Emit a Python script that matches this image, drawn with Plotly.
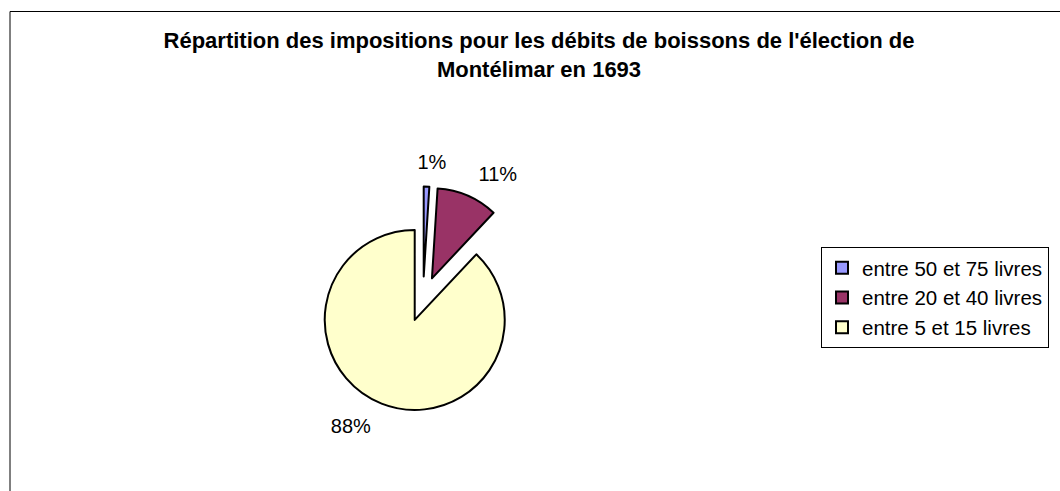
import plotly.graph_objects as go

labels = ["entre 50 et 75 livres", "entre 20 et 40 livres", "entre 5 et 15 livres"]
values = [1, 11, 88]
colors = ["#9999FF", "#993366", "#FFFFCC"]
title_text = "Répartition des impositions pour les débits de boissons de l'élection de<br>Montélimar en 1693"

W, H = 1060, 491
FONT = "Arial, Liberation Sans, sans-serif"

# pie geometry (pixels)
cx, cy = 423, 299
r_pie, pull = 90, 0.25
r_lab = 126

def dom(c, half, total, flip=False):
    a, b = (c - half) / total, (c + half) / total
    if flip:
        a, b = 1 - b, 1 - a
    return [a, b]

half_pie = r_pie * (1 + pull)

fig = go.Figure()
fig.add_trace(go.Pie(
    labels=labels, values=values, sort=False, direction="clockwise", rotation=0,
    pull=[pull] * len(values),
    marker=dict(colors=colors, line=dict(color="black", width=2)),
    textinfo="none",
    domain=dict(x=dom(cx, half_pie, W), y=dom(cy, half_pie, H, flip=True)),
    showlegend=True,
))
# transparent companion pies that place the percentage labels further out
label_sets = [(["outside", "none", "none"], -15), (["none", "outside", "outside"], 0)]
for tp, shift in label_sets:
    fig.add_trace(go.Pie(
        labels=labels, values=values, sort=False, direction="clockwise", rotation=0,
        marker=dict(colors=["rgba(0,0,0,0)"] * len(values), line=dict(width=0)),
        textinfo="percent", textposition=tp,
        outsidetextfont=dict(family=FONT, size=20, color="black"),
        hoverinfo="skip", showlegend=False,
        domain=dict(x=dom(cx + shift, r_lab, W), y=dom(cy, r_lab, H, flip=True)),
    ))

fig.add_shape(type="rect", xref="paper", yref="paper",
              x0=10 / W, x1=1.02, y0=-0.02, y1=1 - 11.5 / H,
              line=dict(color="black", width=1), fillcolor="rgba(0,0,0,0)", layer="below")

fig.update_layout(
    width=W, height=H,
    margin=dict(l=0, r=0, t=0, b=0),
    paper_bgcolor="white", plot_bgcolor="white",
    font=dict(family=FONT, color="black"),
    title=dict(text=title_text, x=539 / W, xanchor="center", y=1 - 48 / H, yanchor="top",
               font=dict(family=FONT, size=22, color="black", weight="bold")),
    legend=dict(x=821 / W, xanchor="left", y=1 - 247 / H, yanchor="top",
                bordercolor="black", borderwidth=1, bgcolor="white",
                font=dict(family=FONT, size=20.5, color="black"),
                traceorder="normal"),
)

fig.write_html("out.html", config={"displayModeBar": False},
               post_script="document.body.style.margin='0';document.documentElement.style.overflow='hidden';")
